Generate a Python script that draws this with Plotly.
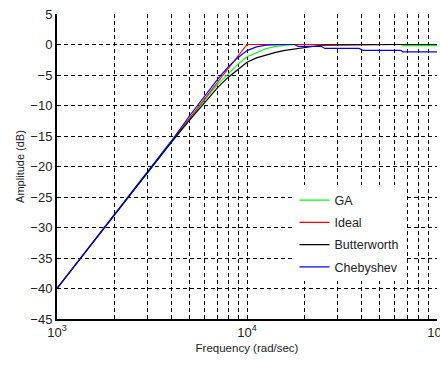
import plotly.graph_objects as go

# log10 of frequency (rad/sec) at sample points
log_f = [3.0, 3.2, 3.4, 3.6, 3.7, 3.8, 3.85, 3.9, 3.95, 4.0, 4.05, 4.1, 4.15, 4.2,
         4.25, 4.27, 4.3, 4.35, 4.39, 4.41, 4.5, 4.59, 4.61, 4.7, 4.81, 4.82, 4.9, 5.0]
freq = [10 ** v for v in log_f]

ga = [-40.0, -32.0, -24.0, -16.0, -12.1, -8.2, -6.4, -4.9, -3.3, -2.0, -1.3, -0.7, -0.3, -0.1,
      0.0, 0.0, 0.0, 0.0, 0.0, 0.0, 0.0, 0.0, 0.0, 0.0, 0.0, -0.2, -0.2, -0.2]
ideal = [-40.0, -32.0, -24.0, -16.0, -12.0, -8.0, -6.0, -4.0, -2.0, 0.0, 0.0, 0.0, 0.0, 0.0,
         0.0, 0.0, 0.0, 0.0, 0.0, 0.0, 0.0, 0.0, 0.0, 0.0, 0.0, 0.0, 0.0, 0.0]
butterworth = [-40.0, -32.0, -24.0, -16.1, -12.3, -8.6, -6.9, -5.4, -4.1, -2.9, -2.2, -1.7, -1.3, -0.95,
               -0.7, -0.6, -0.45, -0.2, -0.12, -0.1, -0.05, -0.02, 0.0, 0.0, 0.0, 0.0, 0.0, 0.0]
chebyshev = [-40.0, -32.0, -24.0, -15.9, -11.6, -7.5, -5.5, -3.7, -2.2, -1.0, -0.4, -0.1, 0.0, 0.0,
             0.0, -0.3, -0.3, -0.3, -0.3, -0.65, -0.65, -0.65, -0.95, -0.95, -0.95, -1.2, -1.2, -1.2]

series_names = ["GA", "Ideal", "Butterworth", "Chebyshev"]
series_colors = ["#00ff00", "#ff0000", "#000000", "#0000ff"]
series_values = [ga, ideal, butterworth, chebyshev]

x_tick_vals = [1000, 2000, 3000, 4000, 5000, 6000, 7000, 8000, 9000,
               10000, 20000, 30000, 40000, 50000, 60000, 70000, 80000, 90000, 100000]
x_tick_text = ["10<sup>3</sup>", "", "", "", "", "", "", "", "",
               "10<sup>4</sup>", "", "", "", "", "", "", "", "", "10<sup>5</sup>"]
y_tick_vals = [-45, -40, -35, -30, -25, -20, -15, -10, -5, 0, 5]

fig = go.Figure()
for name, color, vals in zip(series_names, series_colors, series_values):
    fig.add_trace(go.Scatter(x=freq, y=vals, mode="lines", name=name, legendgroup=name,
                             line=dict(color=color, width=1.2)))

font_family = "Liberation Sans, Arial, sans-serif"
fig.update_layout(
    width=440, height=365,
    margin=dict(l=57, r=3, t=14, b=46, autoexpand=False),
    paper_bgcolor="white", plot_bgcolor="white",
    font=dict(family=font_family, size=13, color="#222"),
    showlegend=True,
    legend=dict(x=0.625, y=0.438, xanchor="left", yanchor="top",
                bgcolor="white", borderwidth=0, tracegroupgap=3,
                font=dict(size=12.5, color="#222")),
)
fig.update_xaxes(
    type="log", range=[3, 5], automargin=False,
    tickmode="array", tickvals=x_tick_vals, ticktext=x_tick_text,
    ticks="inside", ticklen=3, tickcolor="black",
    ticklabeloverflow="allow",
    showgrid=True, gridcolor="black", gridwidth=1.2, griddash="4px,3px",
    showline=True, linecolor="black", linewidth=2, mirror=False,
    zeroline=False,
    title=dict(text="Frequency (rad/sec)", font=dict(size=11.5), standoff=5),
)
fig.update_yaxes(
    range=[-45, 5], tickmode="array", tickvals=y_tick_vals, automargin=False,
    ticks="inside", ticklen=3, tickcolor="black",
    showgrid=True, gridcolor="black", gridwidth=1.2, griddash="4px,3px",
    showline=True, linecolor="black", linewidth=2, mirror=False,
    zeroline=False,
    title=dict(text="Amplitude (dB)", font=dict(size=11), standoff=3),
)

fig.write_html("out.html")
